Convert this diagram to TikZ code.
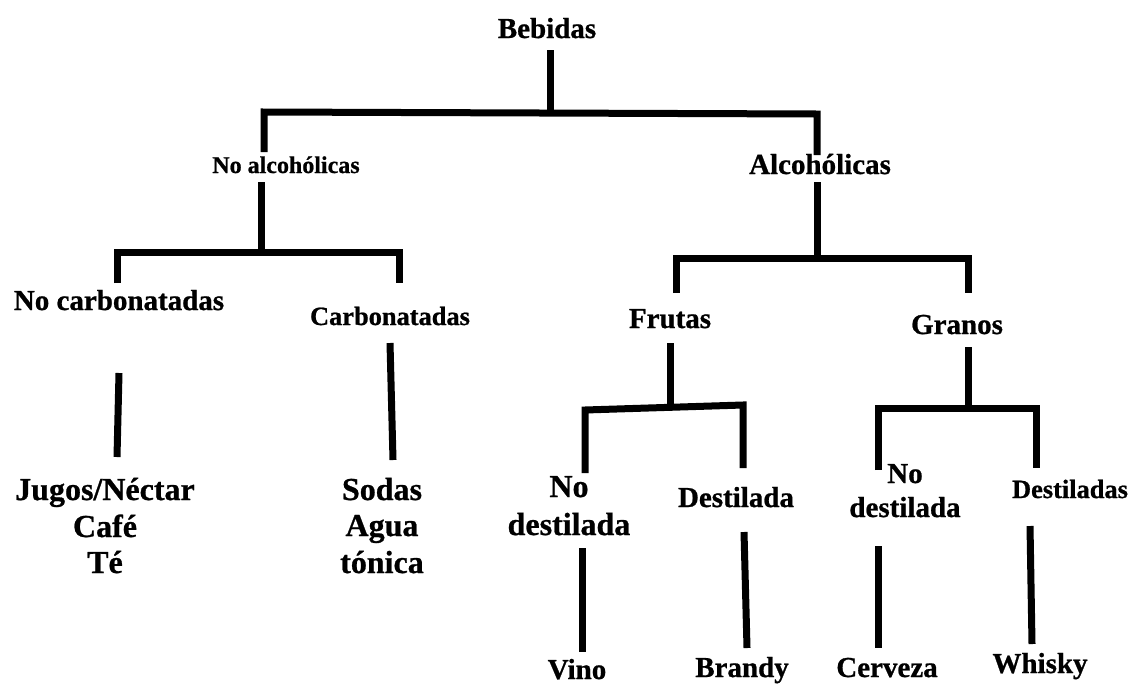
\documentclass[tikz,border=0pt]{standalone}
\usepackage{fontspec}
\setmainfont{Liberation Serif}[BoldFeatures={FakeBold=0.8}]
\begin{document}
\begin{tikzpicture}[x=1pt,y=-1pt,
  lab/.style={inner sep=0pt, anchor=base, font=\bfseries\fontsize{29}{35}\selectfont},
  big/.style={lab, font=\bfseries\fontsize{32}{38}\selectfont},
  mid/.style={lab, font=\bfseries\fontsize{26.4}{32}\selectfont},
  small/.style={lab, font=\bfseries\fontsize{24}{29}\selectfont},
  bar/.style={line width=7pt, line join=miter, line cap=butt}]
\useasboundingbox (0,0) rectangle (1131,683);
% labels
\node[lab] (beb) at (547,38) {Bebidas};
\node[small] (noalc) at (286,173) {No alcohólicas};
\node[lab] (alc) at (820,174) {Alcohólicas};
\node[lab] (nocarb) at (119,310) {No carbonatadas};
\node[mid] (carb) at (390,325) {Carbonatadas};
\node[lab] (frut) at (670,328) {Frutas};
\node[lab] (gran) at (957,334) {Granos};
\node[big] (jug1) at (105,500) {Jugos/Néctar};
\node[big] (jug2) at (105,537) {Café};
\node[big] (jug3) at (105,573) {Té};
\node[big] (sod1) at (382,500) {Sodas};
\node[big] (sod2) at (382,536) {Agua};
\node[big] (sod3) at (382,573) {tónica};
\node[big] (nd1a) at (569,497) {No};
\node[big] (nd1b) at (569,535) {destilada};
\node[lab] (dest) at (736,507) {Destilada};
\node[lab] (nd2a) at (905,483) {No};
\node[lab] (nd2b) at (905,517) {destilada};
\node[mid] (dests) at (1070,498) {Destiladas};
\node[lab] (vino) at (577,679) {Vino};
\node[lab] (brandy) at (742,677) {Brandy};
\node[lab] (cerv) at (887,677) {Cerveza};
\node[lab] (whisky) at (1040,673) {Whisky};
% junction coordinates
\coordinate (a0) at (550,50);   \coordinate (a1) at (550,113);
\coordinate (b0) at (264,152);  \coordinate (b1) at (264,112);
\coordinate (b2) at (817,114);  \coordinate (b3) at (817,155);
\coordinate (c0) at (261,182);  \coordinate (c1) at (261,250);
\coordinate (d0) at (117,283);  \coordinate (d1) at (117,252);
\coordinate (d2) at (399,252);  \coordinate (d3) at (399,283);
\coordinate (e0) at (817,182);  \coordinate (e1) at (817,257);
\coordinate (f0) at (676,293);  \coordinate (f1) at (676,258);
\coordinate (f2) at (968,258);  \coordinate (f3) at (968,293);
\coordinate (g0) at (119,373);  \coordinate (g1) at (117,457);
\coordinate (h0) at (390,343);  \coordinate (h1) at (393,460);
\coordinate (i0) at (670,343);  \coordinate (i1) at (670,407);
\coordinate (j0) at (585,473);  \coordinate (j1) at (585,410);
\coordinate (j2) at (743,405);  \coordinate (j3) at (743,468);
\coordinate (k0) at (968,347);  \coordinate (k1) at (968,408);
\coordinate (l0) at (878,470);  \coordinate (l1) at (878,408);
\coordinate (l2) at (1036,408); \coordinate (l3) at (1036,468);
\coordinate (m0) at (582,548);  \coordinate (m1) at (582,652);
\coordinate (n0) at (744,532);  \coordinate (n1) at (747,648);
\coordinate (o0) at (878,546);  \coordinate (o1) at (878,648);
\coordinate (p0) at (1030,526); \coordinate (p1) at (1032,644);
% connectors
\draw[bar] (a0) -- (a1);
\draw[bar] (b0) -- (b1) -- (b2) -- (b3);
\draw[bar] (c0) -- (c1);
\draw[bar] (d0) -- (d1) -- (d2) -- (d3);
\draw[bar] (e0) -- (e1);
\draw[bar] (f0) -- (f1) -- (f2) -- (f3);
\draw[bar] (g0) -- (g1);
\draw[bar] (h0) -- (h1);
\draw[bar] (i0) -- (i1);
\draw[bar] (j0) -- (j1) -- (j2) -- (j3);
\draw[bar] (k0) -- (k1);
\draw[bar] (l0) -- (l1) -- (l2) -- (l3);
\draw[bar] (m0) -- (m1);
\draw[bar] (n0) -- (n1);
\draw[bar] (o0) -- (o1);
\draw[bar] (p0) -- (p1);
\end{tikzpicture}
\end{document}
